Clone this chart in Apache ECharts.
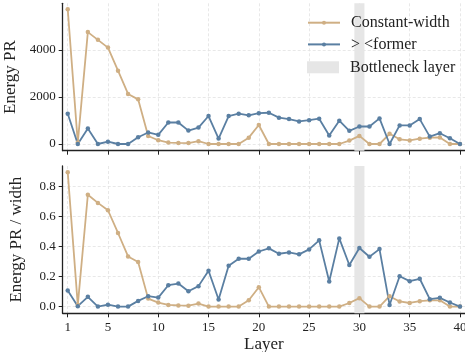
<!DOCTYPE html>
<html>
<head>
<meta charset="utf-8">
<script src="https://cdn.jsdelivr.net/npm/echarts@6/dist/echarts.min.js"></script>
<style>
  html, body { margin: 0; padding: 0; background: #fff; }
  #chart { width: 465px; height: 352px; }
</style>
</head>
<body>
<div id="chart"></div>
<script>
// Layers of the network
const layers = [1, 2, 3, 4, 5, 6, 7, 8, 9, 10, 11, 12, 13, 14, 15, 16, 17, 18, 19, 20,
                21, 22, 23, 24, 25, 26, 27, 28, 29, 30, 31, 32, 33, 34, 35, 36, 37, 38, 39, 40];
const xTickLabels = [1, 5, 10, 15, 20, 25, 30, 35, 40];
const bottleneckLayer = 30;

// Energy PR per layer
const constantWidthPR = [5730, 60, 4760, 4430, 4100, 3120, 2130, 1900, 340, 160,
                         60, 45, 40, 120, 0, 0, 0, 0, 270, 810,
                         0, 0, 0, 0, 0, 0, 0, 0, 145, 345,
                         0, 0, 435, 200, 150, 225, 270, 280, 0, 0];
const formerPR = [1290, 0, 660, 0, 100, 0, 0, 285, 490, 390,
                  915, 915, 570, 700, 1190, 230, 1190, 1290, 1220, 1310,
                  1330, 1120, 1060, 960, 1015, 1075, 360, 990, 560, 745,
                  745, 1090, 0, 790, 790, 1060, 315, 460, 245, 0];

// Energy PR divided by layer width
const constantWidthPRw = [0.893, 0.01, 0.743, 0.689, 0.64, 0.489, 0.333, 0.296, 0.053, 0.027,
                          0.011, 0.008, 0.006, 0.02, 0, 0, 0, 0, 0.042, 0.129,
                          0, 0, 0, 0, 0, 0, 0, 0, 0.024, 0.056,
                          0, 0, 0.069, 0.034, 0.024, 0.036, 0.042, 0.042, 0, 0];
const formerPRw = [0.107, 0.003, 0.065, 0, 0.013, 0, 0, 0.038, 0.069, 0.06,
                   0.142, 0.153, 0.102, 0.136, 0.238, 0.047, 0.271, 0.318, 0.318, 0.366,
                   0.387, 0.351, 0.36, 0.347, 0.38, 0.44, 0.167, 0.453, 0.276, 0.389,
                   0.331, 0.382, 0.011, 0.202, 0.169, 0.185, 0.049, 0.058, 0.027, 0];

const yTicksTop = [0, 2000, 4000];
const yTicksBottom = [0, 0.2, 0.4, 0.6, 0.8];

const FONT = 'Liberation Serif';
const TAN = '#CFAF84';
const BLUE = '#5A7FA2';
const BAND = '#e6e6e6';
const INK = '#222';

const pairs = vals => layers.map((l, i) => [l, vals[i]]);

const gridLine = { show: true, lineStyle: { color: '#e2e2e2', type: [3, 2], width: 0.8 } };
const axisLine = { show: true, lineStyle: { color: INK, width: 1.3 } };

function xAxis(gridIndex, withLabels) {
  return {
    type: 'value', gridIndex, min: 0.5, max: 40.5,
    axisLine: Object.assign({ onZero: false }, axisLine),
    axisTick: { show: true, length: 4, customValues: xTickLabels, lineStyle: { color: INK, width: 1 } },
    axisLabel: { show: withLabels, customValues: xTickLabels, margin: 8,
                 fontFamily: FONT, fontSize: 13, color: INK },
    splitLine: gridLine,
    name: withLabels ? 'Layer' : '', nameLocation: 'middle', nameGap: 23,
    nameTextStyle: { fontFamily: FONT, fontSize: 17, color: INK }
  };
}

function yAxis(gridIndex, min, max, ticks, title, fmt) {
  return {
    type: 'value', gridIndex, min, max,
    axisLine: Object.assign({ onZero: false }, axisLine),
    axisTick: { show: true, length: 4, customValues: ticks, lineStyle: { color: INK, width: 1 } },
    axisLabel: { customValues: ticks, margin: 7, fontFamily: FONT, fontSize: 13, color: INK,
                 formatter: fmt },
    splitLine: gridLine,
    name: title, nameLocation: 'middle', nameGap: 38, nameRotate: 90,
    nameTextStyle: { fontFamily: FONT, fontSize: 17, color: INK }
  };
}

function lineSeries(name, color, vals, idx) {
  return {
    name, type: 'line', xAxisIndex: idx, yAxisIndex: idx,
    data: pairs(vals), symbol: 'circle', symbolSize: 4.5, showSymbol: true,
    lineStyle: { color, width: 1.8 }, itemStyle: { color },
    z: 3, animation: false
  };
}

function bandSeries(idx) {
  return {
    name: 'Bottleneck layer', type: 'line', xAxisIndex: idx, yAxisIndex: idx,
    data: [], itemStyle: { color: BAND }, lineStyle: { color: BAND },
    markArea: {
      silent: true, itemStyle: { color: BAND },
      data: [[{ xAxis: bottleneckLayer - 0.5 }, { xAxis: bottleneckLayer + 0.5 }]]
    },
    z: 1, animation: false
  };
}

const chart = echarts.init(document.getElementById('chart'), null, { renderer: 'canvas' });
chart.setOption({
  animation: false,
  backgroundColor: '#fff',
  textStyle: { fontFamily: FONT },
  grid: [
    { left: 62.7, right: 0, top: 3.3, height: 147.4, outerBoundsMode: 'none', containLabel: false },
    { left: 62.7, right: 0, top: 166, height: 147.3, outerBoundsMode: 'none', containLabel: false }
  ],
  xAxis: [xAxis(0, false), xAxis(1, true)],
  yAxis: [
    yAxis(0, -285, 5985, yTicksTop, 'Energy PR', v => String(v)),
    yAxis(1, -0.0445, 0.934, yTicksBottom, 'Energy PR / width', v => v.toFixed(1))
  ],
  legend: [
    {
      data: ['Constant-width', '> <former'],
      orient: 'vertical', left: 307, top: 14.7, padding: 0,
      itemWidth: 32, itemHeight: 5, itemGap: 5.7,
      textStyle: { fontFamily: FONT, fontSize: 16, color: INK, lineHeight: 16, padding: [0, 0, 0, 6] }
    },
    {
      data: [{ name: 'Bottleneck layer', icon: 'rect' }],
      left: 307, top: 59.3, padding: 0,
      itemWidth: 32, itemHeight: 12,
      textStyle: { fontFamily: FONT, fontSize: 16, color: INK, lineHeight: 16, padding: [0, 0, 0, 6] }
    }
  ],
  series: [
    bandSeries(0),
    bandSeries(1),
    lineSeries('Constant-width', TAN, constantWidthPR, 0),
    lineSeries('> <former', BLUE, formerPR, 0),
    lineSeries('Constant-width', TAN, constantWidthPRw, 1),
    lineSeries('> <former', BLUE, formerPRw, 1)
  ]
});
</script>
</body>
</html>
